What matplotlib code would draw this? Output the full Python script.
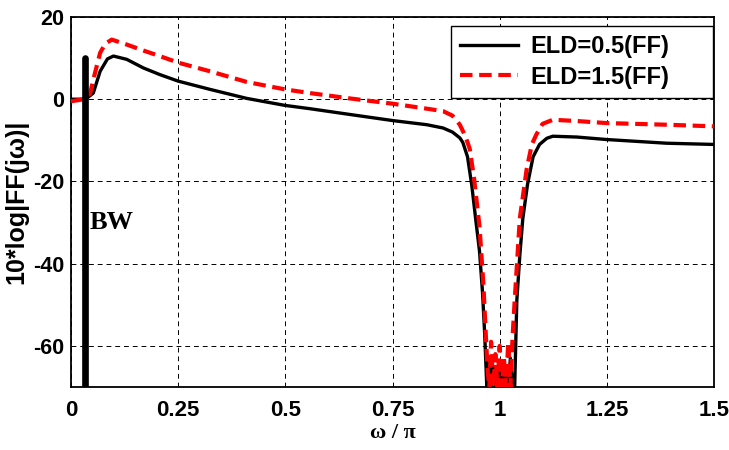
import numpy as np
import matplotlib
matplotlib.use("Agg")
import matplotlib.pyplot as plt

plt.rcParams["axes.unicode_minus"] = False

# values
w_black = [0.0, 0.03, 0.04, 0.052, 0.068, 0.085, 0.099, 0.13, 0.169, 0.207, 0.25, 0.324, 0.41,
           0.499, 0.557, 0.65, 0.751, 0.83, 0.868, 0.89, 0.907, 0.914, 0.925, 0.935, 0.945, 0.953,
           0.960, 0.965, 0.970, 0.975, 0.980, 0.985, 0.990, 0.995, 1.0, 1.005, 1.010, 1.015, 1.020,
           1.025, 1.030, 1.035, 1.040, 1.047, 1.054, 1.065, 1.078, 1.093, 1.11, 1.124, 1.18, 1.249,
           1.389, 1.5]
ff_black = [0.0, 0.0, 0.5, 1.5, 6.8, 9.8, 10.5, 9.7, 7.6, 6.0, 4.4, 2.4, 0.2,
            -1.5, -2.3, -3.7, -5.2, -6.2, -7.0, -8.0, -9.4, -10.5, -14.0, -21.0, -30.0, -37.0,
            -47.0, -57.0, -70.0, -63.0, -70.0, -65.0, -70.0, -66.0, -70.0, -64.0, -70.0, -65.0, -70.0,
            -63.0, -70.0, -70.0, -49.0, -38.0, -29.0, -20.7, -14.0, -11.0, -9.5, -9.0, -9.2, -9.8,
            -10.7, -11.0]

w_red = [0.0, 0.03, 0.044, 0.055, 0.068, 0.08, 0.095, 0.13, 0.17, 0.207, 0.25, 0.324, 0.41,
         0.499, 0.557, 0.65, 0.751, 0.83, 0.868, 0.89, 0.907, 0.92, 0.93, 0.94, 0.953, 0.962,
         0.968, 0.972, 0.976, 0.980, 0.985, 0.990, 0.995, 1.0, 1.005, 1.010, 1.015, 1.020, 1.025,
         1.030, 1.035, 1.047, 1.063, 1.075, 1.086, 1.1, 1.124, 1.18, 1.249, 1.389, 1.5]
ff_red = [-0.5, 0.0, 1.2, 6.0, 11.3, 13.5, 14.5, 13.3, 11.8, 10.5, 8.9, 6.8, 4.2,
          2.4, 1.5, 0.2, -1.1, -2.3, -2.9, -4.0, -6.2, -9.0, -12.0, -19.0, -31.0, -45.0,
          -58.0, -66.0, -70.0, -59.0, -70.0, -62.0, -70.0, -60.0, -70.0, -63.0, -70.0, -59.0, -70.0,
          -58.0, -49.0, -29.0, -17.0, -11.0, -8.5, -6.0, -5.0, -5.3, -5.8, -6.2, -6.6]

bw_x = 0.032
bw_top = 10
labels = ["ELD=0.5(FF)", "ELD=1.5(FF)"]
xticks = [0, 0.25, 0.5, 0.75, 1, 1.25, 1.5]
xticklabels = ["0", "0.25", "0.5", "0.75", "1", "1.25", "1.5"]
yticks = [-60, -40, -20, 0, 20]

W, H = 729, 450
fig = plt.figure(figsize=(W / 100, H / 100), dpi=100)
ax = fig.add_axes([71 / W, 1 - 387 / H, (714 - 71) / W, (387 - 17) / H])

ax.plot(w_black, ff_black, color="black", lw=2.4, label=labels[0], zorder=3)
ax.plot(w_red, ff_red, color="red", lw=3.0, ls=(0, (3, 1.6)), label=labels[1], zorder=4)
ax.plot([bw_x, bw_x], [bw_top, -70], color="black", lw=4.8, solid_capstyle="round", zorder=5)
ax.text(0.043, -30, "BW", fontsize=19, fontweight="bold", family="Liberation Serif",
        va="center", ha="left")

ax.set_xlim(0, 1.5)
ax.set_ylim(-70, 20)
ax.set_xticks(xticks)
ax.set_xticklabels(xticklabels)
ax.set_yticks(yticks)
ax.grid(True, color="black", ls=(0, (5, 4)), lw=0.7)
ax.tick_params(direction="in", length=0)
ax.tick_params(axis="x", labelsize=16, pad=9)
ax.tick_params(axis="y", labelsize=15.5, pad=5)
for lab in ax.get_xticklabels() + ax.get_yticklabels():
    lab.set_family("Liberation Sans")
    lab.set_fontweight("bold")
for sp in ax.spines.values():
    sp.set_linewidth(1.3)

ax.set_xlabel("ω / π", fontsize=16, fontweight="bold", family="Liberation Serif", labelpad=2)
ax.set_ylabel("10*log|FF(jω)|", fontsize=18, fontweight="bold", family="Liberation Sans", labelpad=3)

# legend box placed where the reference has it
leg = ax.legend(loc="upper left", mode="expand",
                bbox_to_anchor=(451 / W, 1 - 100 / H, (713 - 451) / W, 74 / H),
                bbox_transform=fig.transFigure,
                prop={"family": "Liberation Sans", "weight": "bold", "size": 17},
                fancybox=False, framealpha=1, edgecolor="black", borderpad=0.4,
                handlelength=2.45, handletextpad=0.5, labelspacing=0.3, borderaxespad=0)
leg.get_frame().set_linewidth(1.0)

fig.savefig("out.png", dpi=100)
